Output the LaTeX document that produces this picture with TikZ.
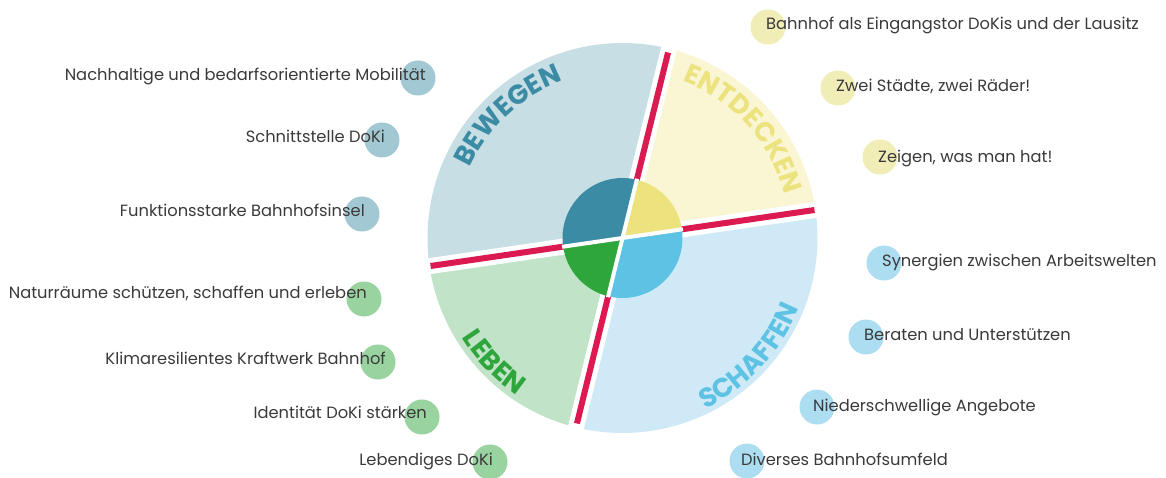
\documentclass[tikz,border=0pt]{standalone}
\usepackage{fontspec}
\setmainfont{Poppins}
\usetikzlibrary{decorations.text}
\definecolor{sBew}{HTML}{C6DEE4}
\definecolor{sEnt}{HTML}{FAF6D3}
\definecolor{sSch}{HTML}{CFEAF6}
\definecolor{sLeb}{HTML}{C1E3C7}
\definecolor{iBew}{HTML}{3C8BA5}
\definecolor{iEnt}{HTML}{ECE27E}
\definecolor{iSch}{HTML}{5EC2E4}
\definecolor{iLeb}{HTML}{2EA63C}
\definecolor{redline}{HTML}{DC1A52}
\definecolor{dBew}{HTML}{A2C9D3}
\definecolor{dLeb}{HTML}{98D3A0}
\definecolor{dEnt}{HTML}{F1EDB7}
\definecolor{dSch}{HTML}{ADDDF0}
\definecolor{txt}{HTML}{3A3A3A}
\tikzset{
  item/.style={font=\fontsize{16.3}{19}\selectfont, text=txt, inner sep=0pt},
  dotc/.style={circle, inner sep=0pt, minimum size=35pt, fill=#1},
  gap/.style={white, line width=16pt},
  redbar/.style={redline, line width=6pt},
  igap/.style={white, line width=4pt},
}
\begin{document}
\begin{tikzpicture}[x=1pt,y=1pt]
\useasboundingbox (0,0) rectangle (1166,-478);
\coordinate (C) at (622.5,-238);
\def\R{195}
\def\ri{60}
\def\aH{8.3}
\def\aV{76.2}
% outer sectors
\fill[sEnt] (C) -- ([shift={(\aH:\R)}]C) arc[start angle=\aH, end angle=\aV, radius=\R] -- cycle;
\fill[sBew] (C) -- ([shift={(\aV:\R)}]C) arc[start angle=\aV, end angle=180+\aH, radius=\R] -- cycle;
\fill[sLeb] (C) -- ([shift={(180+\aH:\R)}]C) arc[start angle=180+\aH, end angle=180+\aV, radius=\R] -- cycle;
\fill[sSch] (C) -- ([shift={(180+\aV:\R)}]C) arc[start angle=180+\aV, end angle=360+\aH, radius=\R] -- cycle;
% white gaps
\foreach \a in {\aH,\aV,180+\aH,180+\aV}{
  \draw[gap] (C) -- ([shift={(\a:\R+6)}]C);
}
% red bars
\draw[redbar] (C) -- ([shift={(\aH:\R-1)}]C);
\draw[redbar] (C) -- ([shift={(180+\aH:\R-1)}]C);
\draw[redbar] (C) -- ([shift={(\aV:\R-4)}]C);
\draw[redbar] (C) -- ([shift={(180+\aV:\R-4)}]C);
% inner circle
\fill[iEnt] (C) -- ([shift={(\aH:\ri)}]C) arc[start angle=\aH, end angle=\aV, radius=\ri] -- cycle;
\fill[iBew] (C) -- ([shift={(\aV:\ri)}]C) arc[start angle=\aV, end angle=180+\aH, radius=\ri] -- cycle;
\fill[iLeb] (C) -- ([shift={(180+\aH:\ri)}]C) arc[start angle=180+\aH, end angle=180+\aV, radius=\ri] -- cycle;
\fill[iSch] (C) -- ([shift={(180+\aV:\ri)}]C) arc[start angle=180+\aV, end angle=360+\aH, radius=\ri] -- cycle;
\foreach \a in {\aH,\aV,180+\aH,180+\aV}{
  \draw[igap] (C) -- ([shift={(\a:\ri+1)}]C);
}
% quadrant labels
\path[decorate, decoration={text along path, text align=center, text color=iBew,
  text={|\bfseries\fontsize{27}{27}\selectfont|BEWEGEN}}]
  ([shift={(173:168)}]C) arc[start angle=173, end angle=93, radius=168];
\path[decorate, decoration={text along path, text align=center, text color=iEnt,
  text={|\bfseries\fontsize{27}{27}\selectfont|ENTDECKEN}}]
  ([shift={(82:168)}]C) arc[start angle=82, end angle=2, radius=168];
\path[decorate, decoration={text along path, text align=center, text color=iSch,
  text={|\bfseries\fontsize{27}{27}\selectfont|SCHAFFEN}}]
  ([shift={(-83:190)}]C) arc[start angle=-83, end angle=-3, radius=190];
\path[decorate, decoration={text along path, text align=center, text color=iLeb,
  text={|\bfseries\fontsize{27}{27}\selectfont|LEBEN}}]
  ([shift={(184:189)}]C) arc[start angle=184, end angle=264, radius=189];
% dots
\node[dotc=dBew] (dA) at (418,-78) {};
\node[dotc=dBew] (dB) at (382,-140) {};
\node[dotc=dBew] (dC) at (362,-214) {};
\node[dotc=dLeb] (dD) at (364,-299) {};
\node[dotc=dLeb] (dE) at (378,-362) {};
\node[dotc=dLeb] (dF) at (422,-417) {};
\node[dotc=dLeb] (dG) at (490,-462) {};
\node[dotc=dEnt] (eA) at (768,-27) {};
\node[dotc=dEnt] (eB) at (838,-88) {};
\node[dotc=dEnt] (eC) at (880,-157) {};
\node[dotc=dSch] (eD) at (884,-263) {};
\node[dotc=dSch] (eE) at (866,-337) {};
\node[dotc=dSch] (eF) at (817,-407) {};
\node[dotc=dSch] (eG) at (747,-461) {};
% texts left
\node[item, anchor=mid east] (lA) at (426,-78) {Nachhaltige und bedarfsorientierte Mobilität};
\node[item, anchor=mid east] (lB) at (385,-140) {Schnittstelle DoKi};
\node[item, anchor=mid east] (lC) at (365,-214) {Funktionsstarke Bahnhofsinsel};
\node[item, anchor=mid east] (lD) at (367,-296) {Naturräume schützen, schaffen und erleben};
\node[item, anchor=mid east] (lE) at (386,-362) {Klimaresilientes Kraftwerk Bahnhof};
\node[item, anchor=mid east] (lF) at (427,-416) {Identität DoKi stärken};
\node[item, anchor=mid east] (lG) at (493,-463) {Lebendiges DoKi};
% texts right
\node[item, anchor=mid west] (rA) at (766,-27) {Bahnhof als Eingangstor DoKis und der Lausitz};
\node[item, anchor=mid west] (rB) at (836,-89) {Zwei Städte, zwei Räder!};
\node[item, anchor=mid west] (rC) at (878,-160) {Zeigen, was man hat!};
\node[item, anchor=mid west] (rD) at (882,-264) {Synergien zwischen Arbeitswelten};
\node[item, anchor=mid west] (rE) at (864,-338) {Beraten und Unterstützen};
\node[item, anchor=mid west] (rF) at (813,-409) {Niederschwellige Angebote};
\node[item, anchor=mid west] (rG) at (741,-463) {Diverses Bahnhofsumfeld};
\end{tikzpicture}
\end{document}
